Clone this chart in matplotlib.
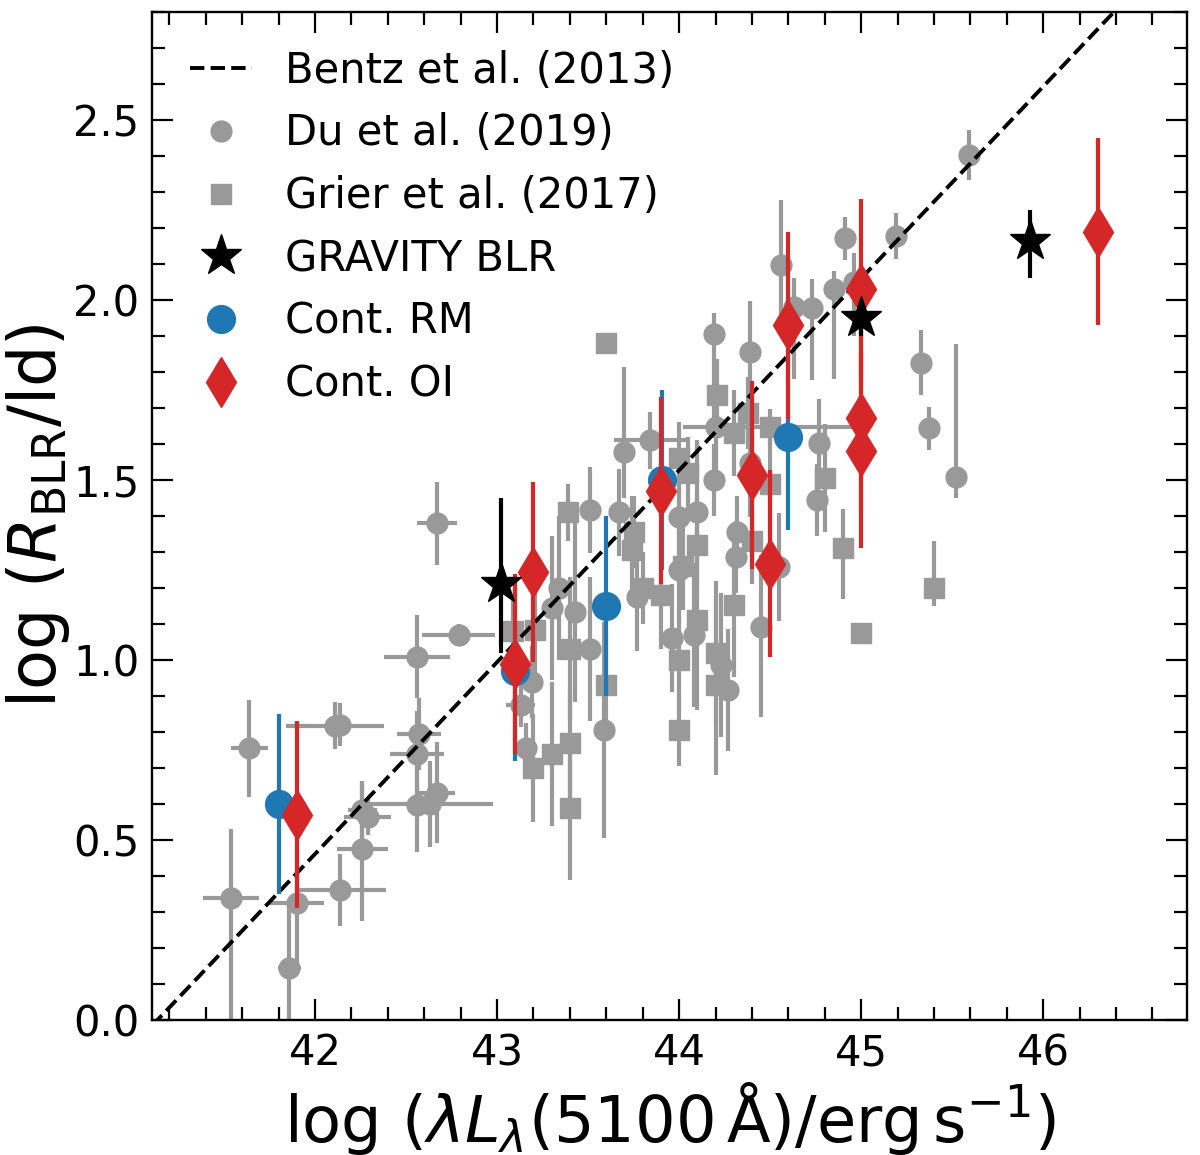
import numpy as np
import matplotlib
matplotlib.use("Agg")
import matplotlib.pyplot as plt
from matplotlib.lines import Line2D
from matplotlib.ticker import MultipleLocator

# ---------------- data ----------------
# Bentz et al. (2013) relation: log R = a + b * (log L - 44)
bentz_a = 1.527
bentz_b = 0.533

# Du et al. (2019) -- circles
du_x = [41.54, 41.64, 41.86, 41.90, 42.11, 42.14, 42.14, 42.26, 42.26, 42.29,
        42.56, 42.63, 42.67, 42.57, 42.56, 42.56, 42.79, 42.67, 43.19, 43.13,
        43.16, 43.59, 43.51, 43.30, 43.43, 43.34, 43.77, 43.96, 44.08, 44.00,
        44.00, 44.10, 43.51, 43.67, 43.70, 43.84, 44.20, 44.19, 44.39, 44.32,
        44.31, 44.45, 44.23, 44.27, 44.55, 44.76, 44.77, 44.19, 44.39, 44.56,
        44.63, 44.73, 44.85, 44.96, 44.91, 45.19, 45.59, 45.33, 45.37, 45.52]
du_y = [0.340, 0.755, 0.145, 0.325, 0.818, 0.820, 0.361, 0.475, 0.583, 0.565,
        0.597, 0.600, 0.631, 0.794, 0.739, 1.009, 1.069, 1.380, 0.940, 0.875,
        0.755, 0.806, 1.030, 1.144, 1.134, 1.200, 1.176, 1.060, 1.070, 1.250,
        1.398, 1.410, 1.417, 1.410, 1.579, 1.610, 1.648, 1.500, 1.546, 1.356,
        1.287, 1.093, 0.986, 0.917, 1.259, 1.444, 1.604, 1.905, 1.856, 2.097,
        1.980, 1.977, 2.030, 2.050, 2.171, 2.178, 2.403, 1.826, 1.644, 1.509]
du_xerr = [0.155, 0.10, 0.065, 0.15, 0.27, 0.05, 0.25, 0.14, 0.08, 0.13,
           0.05, 0.35, 0.10, 0.12, 0.15, 0.18, 0.20, 0.11, 0.04, 0.08,
           0.05, 0.03, 0.05, 0.04, 0.05, 0.05, 0.05, 0.05, 0.05, 0.05,
           0.05, 0.05, 0.05, 0.05, 0.05, 0.20, 0.05, 0.05, 0.05, 0.05,
           0.05, 0.03, 0.03, 0.03, 0.04, 0.04, 0.04, 0.03, 0.03, 0.03,
           0.03, 0.03, 0.03, 0.03, 0.03, 0.03, 0.03, 0.03, 0.03, 0.03]
du_yerr_lo = [0.40, 0.135, 0.19, 0.18, 0.065, 0.06, 0.10, 0.20, 0.08, 0.05,
              0.13, 0.12, 0.14, 0.10, 0.12, 0.115, 0.03, 0.115, 0.10, 0.06,
              0.07, 0.30, 0.20, 0.20, 0.25, 0.20, 0.15, 0.15, 0.20, 0.15,
              0.15, 0.20, 0.12, 0.12, 0.13, 0.08, 0.12, 0.10, 0.15, 0.10,
              0.10, 0.25, 0.20, 0.17, 0.15, 0.10, 0.12, 0.24, 0.20, 0.15,
              0.20, 0.20, 0.25, 0.15, 0.06, 0.065, 0.07, 0.09, 0.06, 0.06]
du_yerr_hi = [0.19, 0.135, 0.19, 0.18, 0.065, 0.06, 0.10, 0.19, 0.08, 0.05,
              0.13, 0.12, 0.14, 0.10, 0.12, 0.115, 0.03, 0.115, 0.10, 0.06,
              0.07, 0.30, 0.20, 0.20, 0.25, 0.20, 0.15, 0.15, 0.20, 0.15,
              0.15, 0.20, 0.12, 0.12, 0.236, 0.08, 0.12, 0.10, 0.15, 0.10,
              0.10, 0.20, 0.20, 0.17, 0.15, 0.10, 0.12, 0.06, 0.14, 0.18,
              0.08, 0.08, 0.05, 0.08, 0.06, 0.065, 0.07, 0.09, 0.06, 0.37]

# Grier et al. (2017) -- squares
gr_x = [43.60, 43.09, 43.21, 43.20, 43.30, 43.40, 43.40, 43.40, 43.60, 43.39,
        43.90, 43.80, 43.75, 43.74, 44.00, 44.21, 44.30, 44.50, 44.10, 44.02,
        44.40, 44.30, 44.10, 44.20, 44.20, 44.00, 44.00, 44.38, 44.80, 44.90,
        45.00, 45.40, 44.50, 44.05]
gr_y = [1.880, 1.080, 1.083, 0.700, 0.740, 0.770, 0.590, 1.030, 0.930, 1.410,
        1.180, 1.200, 1.356, 1.305, 1.560, 1.736, 1.630, 1.490, 1.320, 1.260,
        1.330, 1.153, 1.110, 1.020, 0.930, 1.000, 0.806, 1.685, 1.505, 1.310,
        1.074, 1.200, 1.648, 1.520]
gr_xerr = [0.01, 0.05, 0.04, 0.03, 0.05, 0.05, 0.02, 0.03, 0.03, 0.05,
           0.05, 0.05, 0.04, 0.04, 0.04, 0.04, 0.04, 0.04, 0.04, 0.04,
           0.04, 0.04, 0.04, 0.04, 0.04, 0.04, 0.03, 0.04, 0.03, 0.03,
           0.02, 0.02, 0.48, 0.04]
gr_yerr_lo = [0.01, 0.10, 0.12, 0.15, 0.20, 0.15, 0.20, 0.20, 0.15, 0.08,
              0.15, 0.10, 0.10, 0.15, 0.10, 0.10, 0.12, 0.15, 0.15, 0.12,
              0.12, 0.20, 0.25, 0.20, 0.25, 0.15, 0.10, 0.10, 0.15, 0.14,
              0.03, 0.05, 0.05, 0.10]
gr_yerr_hi = [0.01, 0.10, 0.12, 0.15, 0.20, 0.15, 0.20, 0.20, 0.15, 0.08,
              0.15, 0.10, 0.10, 0.15, 0.10, 0.10, 0.12, 0.15, 0.15, 0.12,
              0.12, 0.20, 0.25, 0.20, 0.25, 0.15, 0.10, 0.10, 0.15, 0.11,
              0.03, 0.13, 0.05, 0.10]

# GRAVITY BLR -- stars
grav_x = [43.02, 45.00, 45.93]
grav_y = [1.21, 1.95, 2.165]
grav_yerr_lo = [0.19, 0.05, 0.105]
grav_yerr_hi = [0.24, 0.05, 0.085]

# Continuum RM -- blue circles
crm_x = [41.80, 43.10, 43.60, 43.905, 44.60]
crm_y = [0.600, 0.970, 1.150, 1.500, 1.620]
crm_yerr = [0.25, 0.25, 0.25, 0.25, 0.26]

# Continuum OI -- red diamonds
coi_x = [41.90, 43.10, 43.20, 43.90, 44.40, 44.50, 44.60, 45.00, 45.00, 45.00, 46.30]
coi_y = [0.570, 0.990, 1.245, 1.470, 1.514, 1.268, 1.930, 2.030, 1.671, 1.581, 2.190]
coi_yerr = [0.26, 0.25, 0.25, 0.26, 0.26, 0.26, 0.26, 0.25, 0.26, 0.27, 0.26]

legend_labels = ["Bentz et al. (2013)", "Du et al. (2019)", "Grier et al. (2017)",
                 "GRAVITY BLR", "Cont. RM", "Cont. OI"]

xlim = (41.105, 46.79)
ylim = (0.0, 2.8)

# ---------------- style ----------------
GREY = "#999999"
BLUE = "#1f77b4"
RED = "#d62728"
FS_TICK = 30
FS_LEG = 30
FS_XLABEL = 46
FS_YLABEL = 47

fig = plt.figure(figsize=(12, 11.55), dpi=100)
ax = fig.add_axes([0.1267, 0.1169, 0.9892 - 0.1267, 0.9896 - 0.1169])

ax.errorbar(du_x, du_y, xerr=du_xerr, yerr=[du_yerr_lo, du_yerr_hi], fmt="o",
            color=GREY, ms=15, elinewidth=3, capsize=0, zorder=2)
ax.errorbar(gr_x, gr_y, xerr=gr_xerr, yerr=[gr_yerr_lo, gr_yerr_hi], fmt="s",
            color=GREY, ms=14, elinewidth=3, capsize=0, zorder=2)

xx = np.linspace(xlim[0], xlim[1], 200)
ax.plot(xx, bentz_a + bentz_b * (xx - 44.0), ls="--", color="k", lw=2.8, zorder=3)

ax.errorbar(crm_x, crm_y, yerr=crm_yerr, fmt="o", color=BLUE, ms=20,
            elinewidth=3, capsize=0, zorder=4)
ax.errorbar(coi_x, coi_y, yerr=coi_yerr, fmt="d", color=RED, ms=25,
            elinewidth=3, capsize=0, zorder=5)
ax.errorbar(grav_x, grav_y, yerr=[grav_yerr_lo, grav_yerr_hi], fmt="*", color="k",
            ms=31, elinewidth=3, capsize=0, zorder=6)

ax.set_xlim(*xlim)
ax.set_ylim(*ylim)
ax.xaxis.set_major_locator(MultipleLocator(1))
ax.xaxis.set_minor_locator(MultipleLocator(0.2))
ax.yaxis.set_major_locator(MultipleLocator(0.5))
ax.yaxis.set_minor_locator(MultipleLocator(0.1))
ax.tick_params(which="both", direction="in", top=True, right=True, width=1.6,
               labelsize=FS_TICK)
ax.tick_params(which="major", length=15, pad=9)
ax.tick_params(which="minor", length=9.5)
for s in ax.spines.values():
    s.set_linewidth(1.7)

ax.set_xlabel(r"log ($\lambda L_\lambda$(5100$\,$Å)/erg$\,$s$^{-1}$)", fontsize=FS_XLABEL,
              labelpad=4)
ax.set_ylabel(r"log ($R_{\rm BLR}$/ld)", fontsize=FS_YLABEL, labelpad=1)

handles = [
    Line2D([], [], ls="--", color="k", lw=2.8),
    Line2D([], [], ls="none", marker="o", color=GREY, ms=15),
    Line2D([], [], ls="none", marker="s", color=GREY, ms=14),
    Line2D([], [], ls="none", marker="*", color="k", ms=31),
    Line2D([], [], ls="none", marker="o", color=BLUE, ms=20),
    Line2D([], [], ls="none", marker="d", color=RED, ms=25),
]
ax.legend(handles, legend_labels, loc="upper left", frameon=False,
          fontsize=FS_LEG, handlelength=1.5, labelspacing=0.5)

fig.savefig("out.png", dpi=100)
